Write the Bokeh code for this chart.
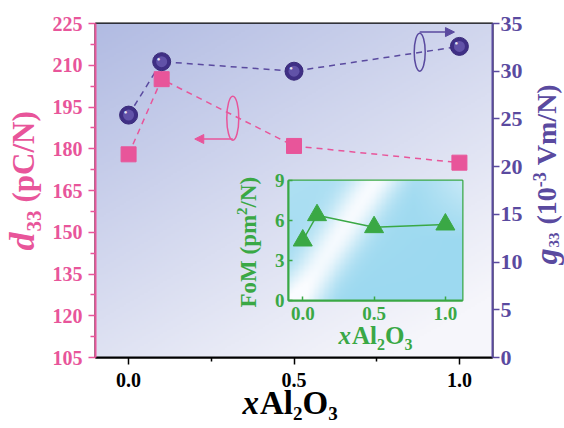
import numpy as np
from math import pi, cos, sin
from bokeh.plotting import figure
from bokeh.models import Range1d, LinearAxis, FixedTicker, Label, Arrow, NormalHead, NumeralTickFormatter
from bokeh.embed import file_html
from bokeh.resources import INLINE

# ---------------- data ----------------
x_vals = [0.0, 0.1, 0.5, 1.0]
d33 = [178, 205, 181, 175]
g33 = [25.4, 31.0, 30.0, 32.6]
fom = [4.5, 6.4, 5.5, 5.7]

x_ticks = [0.0, 0.5, 1.0]
x_minor = [0.25, 0.75]
d33_ticks = [105, 120, 135, 150, 165, 180, 195, 210, 225]
d33_minor = [112.5, 127.5, 142.5, 157.5, 172.5, 187.5, 202.5, 217.5]
g33_ticks = [0, 5, 10, 15, 20, 25, 30, 35]
fom_ticks = [0, 3, 6, 9]
fom_x_ticks = [0.0, 0.5, 1.0]

PINK = "#e8559a"
PURPLE = "#5a4a9f"
GREEN = "#3aa845"
FONT = "Liberation Serif"

W = {" ": .25, "(": .333, ")": .333, "/": .278, "-": .333, "A": .722, "C": .722,
     "F": .611, "M": .944, "N": .722, "O": .778, "V": .722, "d": .5, "g": .5,
     "l": .278, "m": .833, "o": .5, "p": .556, "x": .5}


def rich(fig, X, Y, angle, pieces, color):
    """Lay out text pieces along a baseline in page pixels (y grows downward).
    Each piece: (text, size, style, baseline shift, extra advance after)."""
    dx, dy = cos(angle), -sin(angle)          # reading direction
    ux, uy = -sin(angle), -cos(angle)         # text 'up' direction
    pos = 0.0
    for piece in pieces:
        text, size, style, shift = piece[:4]
        extra = piece[4] if len(piece) > 4 else 0
        up = shift + 0.34 * size              # anchor at the middle of the em box
        px = X + pos * dx + up * ux
        py = Y + pos * dy + up * uy
        fig.add_layout(Label(x=px, y=py, text=text, angle=angle,
                             text_font=FONT, text_font_size=f"{size}px", text_font_style=style,
                             text_color=color, text_align="left", text_baseline="middle"))
        pos += sum(W.get(ch, 0.5) for ch in text) * size + extra


def gradient_image(rgb):
    ny, nx = rgb.shape[:2]
    img = np.empty((ny, nx), dtype=np.uint32)
    view = img.view(dtype=np.uint8).reshape((ny, nx, 4))
    view[..., 0] = rgb[..., 0]
    view[..., 1] = rgb[..., 1]
    view[..., 2] = rgb[..., 2]
    view[..., 3] = 255
    return img


# ---------------- main figure ----------------
xr = Range1d(-0.1, 1.1)
yr = Range1d(105, 225)
gr = Range1d(0, 35)

p = figure(frame_width=397, frame_height=334, min_border_left=95, min_border_right=72,
           min_border_top=23, min_border_bottom=71, x_range=xr, y_range=yr,
           output_backend="svg", toolbar_location=None,
           background_fill_color="white", border_fill_color="white",
           outline_line_color="black", outline_line_width=2)
p.extra_y_ranges = {"g": gr}
p.xgrid.visible = False
p.ygrid.visible = False

nx, ny = 200, 170
u = np.linspace(0, 1, nx)[None, :]
v = np.linspace(0, 1, ny)[:, None]
dk = np.clip(0.45 * (1 - u) + 0.65 * v - 0.12, 0, 1)
dark = np.array([176, 186, 226])
light = np.array([246, 246, 251])
rgb = light[None, None, :] * (1 - dk[..., None]) + dark[None, None, :] * dk[..., None]
p.image_rgba(image=[gradient_image(rgb)], x=xr.start, y=yr.start,
             dw=xr.end - xr.start, dh=yr.end - yr.start)

xa = p.xaxis[0]
xa.ticker = FixedTicker(ticks=x_ticks, minor_ticks=x_minor)
xa.formatter = NumeralTickFormatter(format="0.0")
xa.axis_line_color = "black"
xa.axis_line_width = 2
xa.major_tick_line_color = "black"
xa.major_tick_line_width = 1.5
xa.minor_tick_line_color = "black"
xa.minor_tick_line_width = 1.5
xa.major_tick_out = 7
xa.major_tick_in = 0
xa.minor_tick_out = 4
xa.minor_tick_in = 0
xa.major_label_text_font = FONT
xa.major_label_text_font_style = "bold"
xa.major_label_text_font_size = "20px"
xa.major_label_text_color = "black"
xa.major_label_standoff = 8

ya = p.yaxis[0]
ya.ticker = FixedTicker(ticks=d33_ticks, minor_ticks=d33_minor)
ya.axis_line_color = PINK
ya.axis_line_width = 2
ya.major_tick_line_color = PINK
ya.major_tick_line_width = 1.5
ya.minor_tick_line_color = PINK
ya.minor_tick_line_width = 1.5
ya.major_tick_out = 7
ya.major_tick_in = 0
ya.minor_tick_out = 5
ya.minor_tick_in = 0
ya.major_label_text_font = FONT
ya.major_label_text_font_style = "bold"
ya.major_label_text_font_size = "20px"
ya.major_label_text_color = PINK
ya.major_label_standoff = 6

ra = LinearAxis(y_range_name="g", ticker=FixedTicker(ticks=g33_ticks))
ra.axis_line_color = PURPLE
ra.axis_line_width = 2
ra.major_tick_line_color = PURPLE
ra.major_tick_line_width = 1.5
ra.major_tick_out = 7
ra.major_tick_in = 0
ra.minor_tick_line_color = None
ra.major_label_text_font = FONT
ra.major_label_text_font_style = "bold"
ra.major_label_text_font_size = "22px"
ra.major_label_text_color = PURPLE
ra.major_label_standoff = 1
p.add_layout(ra, "right")

p.line(x_vals, d33, line_color=PINK, line_width=1.5, line_dash="6 5")
p.line(x_vals, g33, line_color=PURPLE, line_width=1.5, line_dash="6 5", y_range_name="g")
p.scatter(x_vals, d33, marker="square", size=15, fill_color=PINK, line_color=PINK)
p.scatter(x_vals, g33, marker="circle", size=18, fill_color="#3f2f85", line_color="#3a2b7a",
          y_range_name="g")
p.scatter(x_vals, g33, marker="circle", size=11, fill_color="#6a5bb0", line_color=None,
          y_range_name="g", fill_alpha=0.8)
p.text(x_vals, g33, text=["\u25cf"] * len(x_vals), x_offset=-3, y_offset=-3,
       text_font_size="6px", text_color="white", text_alpha=0.85, text_align="center",
       text_baseline="middle", text_font="DejaVu Sans", y_range_name="g")

p.ellipse(x=[0.315], y=[191], width=[12], height=[44], width_units="screen",
          height_units="screen", fill_alpha=0, line_color=PINK, line_width=1.5)
p.add_layout(Arrow(end=NormalHead(size=9, fill_color=PINK, line_color=PINK),
                   x_start=0.315, y_start=183.5, x_end=0.2, y_end=183.5,
                   line_color=PINK, line_width=1.5))
p.ellipse(x=[0.88], y=[32.0], width=[11], height=[38], width_units="screen",
          height_units="screen", fill_alpha=0, line_color=PURPLE, line_width=1.5,
          y_range_name="g")
p.add_layout(Arrow(end=NormalHead(size=9, fill_color=PURPLE, line_color=PURPLE),
                   x_start=0.88, y_start=34.1, x_end=0.985, y_end=34.1,
                   line_color=PURPLE, line_width=1.5, y_range_name="g"))

# ---------------- inset figure ----------------
ixr = Range1d(-0.1, 1.12)
iyr = Range1d(0, 9)
q = figure(frame_width=174, frame_height=120, min_border_left=60, min_border_right=8,
           min_border_top=12, min_border_bottom=50, x_range=ixr, y_range=iyr,
           output_backend="svg", toolbar_location=None,
           background_fill_alpha=0, border_fill_alpha=0,
           outline_line_color=GREEN, outline_line_width=2)
q.styles = {"position": "absolute", "left": "228px", "top": "168px"}
q.xgrid.visible = False
q.ygrid.visible = False

nx2, ny2 = 140, 100
u2 = np.linspace(0, 1, nx2)[None, :]
v2 = np.linspace(0, 1, ny2)[:, None]
cyan = np.array([156, 217, 240])
white = np.array([250, 252, 255])
xp, yp = u2 * 174.0, v2 * 120.0
d_line = (xp - 8.0 - 0.66 * yp) / np.hypot(1.0, 0.66)
band = np.exp(-(d_line / 22.0) ** 2)
corner = np.clip((u2 - 0.72) * 2.5, 0, 1) * np.clip((v2 - 0.5) * 2.2, 0, 1)
low = np.clip((0.3 - v2) * 2.5, 0, 1) * np.clip((0.3 - u2) * 2.5, 0, 1)
wgt = np.clip(band * 0.88 + corner * 0.6 + low * 0.5 + 0.2 * v2 * (1 - u2), 0, 1)
rgb2 = cyan[None, None, :] * (1 - wgt[..., None]) + white[None, None, :] * wgt[..., None]
q.image_rgba(image=[gradient_image(rgb2)], x=ixr.start, y=iyr.start,
             dw=ixr.end - ixr.start, dh=iyr.end - iyr.start)

for ax_, ticks in ((q.xaxis[0], fom_x_ticks), (q.yaxis[0], fom_ticks)):
    ax_.ticker = FixedTicker(ticks=ticks)
    ax_.axis_line_color = GREEN
    ax_.axis_line_width = 2
    ax_.major_tick_line_color = GREEN
    ax_.major_tick_line_width = 1.5
    ax_.major_tick_in = 4
    ax_.major_tick_out = 0
    ax_.minor_tick_line_color = None
    ax_.major_label_text_font = FONT
    ax_.major_label_text_font_style = "bold"
    ax_.major_label_text_font_size = "19px"
    ax_.major_label_text_color = GREEN
q.xaxis[0].formatter = NumeralTickFormatter(format="0.0")
q.xaxis[0].major_label_standoff = 6
q.yaxis[0].major_label_standoff = 4

q.line(x_vals, fom, line_color=GREEN, line_width=1.5)
q.scatter(x_vals, fom, marker="triangle", size=19, fill_color=GREEN, line_color=GREEN)

# ---------------- text overlay (page-pixel coordinates) ----------------
t = figure(frame_width=564, frame_height=428, min_border=0, x_range=Range1d(0, 564),
           y_range=Range1d(428, 0), x_axis_location=None, y_axis_location=None,
           output_backend="svg", toolbar_location=None,
           background_fill_alpha=0, border_fill_alpha=0, outline_line_color=None)
t.styles = {"position": "absolute", "left": "0px", "top": "0px"}
t.xgrid.visible = False
t.ygrid.visible = False

rich(t, 242, 414, 0, [
    ("x", 33, "bold italic", 0, 1), ("Al", 33, "bold", 0), ("2", 19, "bold", -5),
    ("O", 33, "bold", 0), ("3", 19, "bold", -5)], "black")
rich(t, 34, 250, pi / 2, [
    ("d", 36, "bold italic", 0, 1), ("33", 21, "bold", -7, 8), ("(pC/N)", 31, "bold", 0)], PINK)
rich(t, 556, 264, pi / 2, [
    ("g", 32, "bold italic", 0, 1), ("33", 15, "bold", -3, 8), ("(10", 28, "bold", 0),
    ("-3", 18, "bold", 11, 7), ("Vm/N)", 28, "bold", 0)], PURPLE)
rich(t, 256, 307, pi / 2, [
    ("FoM (pm", 23, "bold", 0), ("2", 15, "bold", 9), ("/N)", 23, "bold", 0)], GREEN)
rich(t, 338, 343, 0, [
    ("x", 25, "bold italic", 0, 1), ("Al", 25, "bold", 0), ("2", 16, "bold", -6),
    ("O", 25, "bold", 0), ("3", 16, "bold", -6)], GREEN)

open("out.html", "w").write(file_html([p, q, t], INLINE))
